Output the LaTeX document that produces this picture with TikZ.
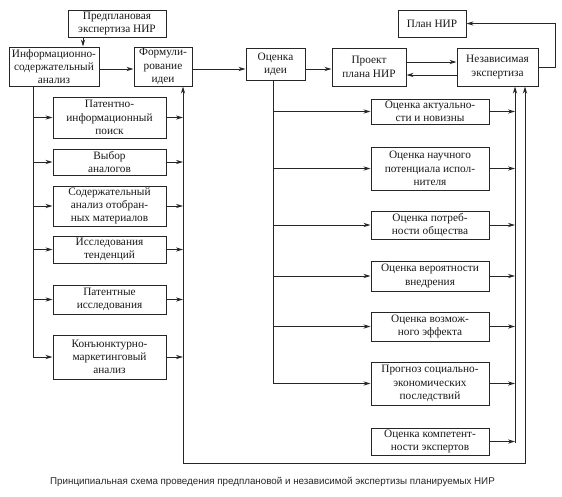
\documentclass[tikz,border=0pt]{standalone}
\usepackage{fontspec}
\setmainfont{Liberation Serif}
\newfontfamily\capfont{Liberation Sans}
\usetikzlibrary{arrows.meta,positioning,calc}
\begin{document}
\begin{tikzpicture}[x=1pt,y=-1pt,
  box/.style={draw=black!85, line width=1pt, align=center, inner sep=1pt,
    font=\fontsize{11.3}{13.3}\selectfont, text=black!90},
  line/.style={draw=black!85, line width=1pt},
  arr/.style={line, -{Stealth[length=7pt,width=4.2pt]}}]
\useasboundingbox (0,0) rectangle (562,496);
\fill[white] (0,0) rectangle (562,496);
% top row
\node[box, minimum width=98, minimum height=27] (pre) at (117,23.5) {Предплановая\\экспертиза НИР};
\node[box, minimum width=90, minimum height=39] (info) at (54,66.5) {Информационно-\\содержательный\\анализ};
\node[box, minimum width=58, minimum height=39] (form) at (163,66.5) {Формули-\\рование\\идеи};
\node[box, minimum width=59, minimum height=32] (idea) at (275.5,64) {Оценка\\идеи};
\node[box, minimum width=74, minimum height=38] (proj) at (369,67) {Проект\\плана НИР};
\node[box, minimum width=81, minimum height=38] (indep) at (497.5,67) {Независимая\\экспертиза};
\node[box, minimum width=68, minimum height=27] (plan) at (432,23.5) {План НИР};
% left column
\node[box, minimum width=113, minimum height=41] (L1) at (109.5,117.5) {Патентно-\\информационный\\поиск};
\node[box, minimum width=113, minimum height=26] (L2) at (109.5,162) {Выбор\\аналогов};
\node[box, minimum width=113, minimum height=40] (L3) at (109.5,206) {Содержательный\\анализ отобран-\\ных материалов};
\node[box, minimum width=113, minimum height=27] (L4) at (109.5,249.5) {Исследования\\тенденций};
\node[box, minimum width=113, minimum height=29] (L5) at (109.5,299.5) {Патентные\\исследования};
\node[box, minimum width=113, minimum height=44] (L6) at (109.5,357) {Конъюнктурно-\\маркетинговый\\анализ};
% right column
\node[box, minimum width=118, minimum height=25] (R1) at (430,111.5) {Оценка актуально-\\сти и новизны};
\node[box, minimum width=118, minimum height=43] (R2) at (430,168.5) {Оценка научного\\потенциала испол-\\нителя};
\node[box, minimum width=118, minimum height=28] (R3) at (430,225) {Оценка потреб-\\ности общества};
\node[box, minimum width=118, minimum height=30] (R4) at (430,276) {Оценка вероятности\\внедрения};
\node[box, minimum width=118, minimum height=29] (R5) at (430,326.5) {Оценка возмож-\\ного эффекта};
\node[box, minimum width=118, minimum height=43] (R6) at (430,383.5) {Прогноз социально-\\экономических\\последствий};
\node[box, minimum width=118, minimum height=27] (R7) at (430,441.5) {Оценка компетент-\\ности экспертов};
% caption
\node[font=\capfont\fontsize{9.8}{11}\selectfont, text=black!85, inner sep=0pt] (cap) at (272.5,482)
  {Принципиальная схема проведения предплановой и независимой экспертизы планируемых НИР};
% helper coordinates
\coordinate (a) at (83,0);
\coordinate (tl) at (33,0);
\coordinate (tr) at (183,463);
\coordinate (rt) at (273,0);
\coordinate (rr) at (515,443);
\coordinate (br) at (525,463);
\coordinate (loop) at (555,0);
% top connectors
\draw[arr] (pre.south -| a) -- (info.north -| a);
\draw[arr] ([yshift=-2.5pt]info.east) -- ([yshift=-2.5pt]form.west);
\draw[arr] ([yshift=-2.5pt]form.east) -- ([yshift=-2.5pt]form.east -| idea.west);
\draw[arr] ([yshift=-2pt]proj.west -| idea.east) -- ([yshift=-2pt]proj.west);
\draw[arr] ([yshift=5pt]proj.east) -- ([yshift=5pt]indep.west);
\draw[arr] ([yshift=-8pt]indep.west) -- ([yshift=-8pt]proj.east);
\draw[arr] (indep.east) -| (loop |- plan.east) -- (plan.east);
% left trunk
\draw[line] (info.south -| tl) -- (tl |- L6);
\foreach \n in {L1,L2,L3,L4,L5,L6} {
  \draw[arr] (tl |- \n) -- (\n.west);
  \draw[arr] (\n.east) -- (tr |- \n);
}
\draw[arr] (tr) -- (form.south -| tr);
\draw[arr] (tr) -- (br) -- (indep.south -| br);
% right trunk
\draw[line] (idea.south -| rt) -- (rt |- R6);
\foreach \n in {R1,R2,R3,R4,R5,R6} {
  \draw[arr] (rt |- \n) -- (\n.west);
}
\foreach \n in {R1,R2,R3,R4,R5,R6,R7} {
  \draw[arr] (\n.east) -- (rr |- \n);
}
\draw[arr] (rr) -- (indep.south -| rr);
\end{tikzpicture}
\end{document}
